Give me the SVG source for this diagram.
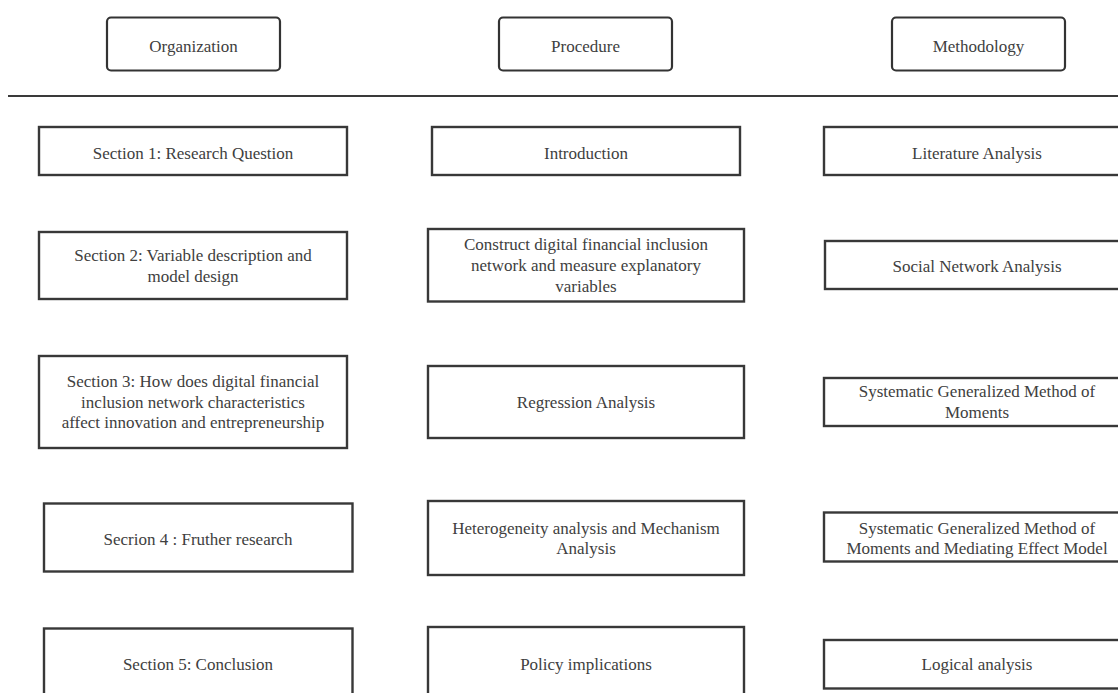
<svg xmlns="http://www.w3.org/2000/svg" width="1118" height="693" viewBox="0 0 1118 693" font-family="'Liberation Serif', 'DejaVu Serif', serif">
<style>
.hdr{fill:#fff;stroke:#333;stroke-width:2.2}
.box{fill:#fff;stroke:#383838;stroke-width:2.4}
.t{font-family:'Liberation Serif','DejaVu Serif',serif;font-size:17px;fill:#404040;text-anchor:middle}
</style>
<rect width="1118" height="693" fill="#fff"/>
<g id="connectors">
<line x1="8" y1="96" x2="1118" y2="96" stroke="#3a3a3a" stroke-width="2.2"/>
</g>
<g id="hdr-organization"><rect class="hdr" x="107" y="17.5" width="173" height="53" rx="4"/><text class="t" x="193.5" y="52">Organization</text></g>
<g id="hdr-procedure"><rect class="hdr" x="499" y="17.5" width="173" height="53" rx="4"/><text class="t" x="585.5" y="52">Procedure</text></g>
<g id="hdr-methodology"><rect class="hdr" x="892" y="17.5" width="173" height="53" rx="4"/><text class="t" x="978.5" y="52">Methodology</text></g>

<g id="org-1"><rect class="box" x="39" y="127" width="308" height="48"/><text class="t" x="193" y="159">Section 1: Research Question</text></g>
<g id="proc-1"><rect class="box" x="432" y="127" width="308" height="48"/><text class="t" x="586" y="159">Introduction</text></g>
<g id="meth-1"><rect class="box" x="824" y="127" width="306" height="48"/><text class="t" x="977" y="159">Literature Analysis</text></g>

<g id="org-2"><rect class="box" x="39" y="232" width="308" height="67"/><text class="t" x="193" y="261">Section 2: Variable description and</text><text class="t" x="193" y="282">model design</text></g>
<g id="proc-2"><rect class="box" x="428" y="229" width="316" height="72.5"/><text class="t" x="586" y="250">Construct digital financial inclusion</text><text class="t" x="586" y="271">network and measure explanatory</text><text class="t" x="586" y="292">variables</text></g>
<g id="meth-2"><rect class="box" x="825" y="241" width="305" height="48"/><text class="t" x="977" y="272">Social Network Analysis</text></g>

<g id="org-3"><rect class="box" x="39" y="356" width="308" height="92"/><text class="t" x="193" y="387">Section 3: How does digital financial</text><text class="t" x="193" y="407.5">inclusion network characteristics</text><text class="t" x="193" y="428">affect innovation and entrepreneurship</text></g>
<g id="proc-3"><rect class="box" x="428" y="366" width="316" height="72"/><text class="t" x="586" y="408">Regression Analysis</text></g>
<g id="meth-3"><rect class="box" x="824" y="378" width="306" height="48"/><text class="t" x="977" y="397">Systematic Generalized Method of</text><text class="t" x="977" y="417.5">Moments</text></g>

<g id="org-4"><rect class="box" x="44" y="503.5" width="308.5" height="68"/><text class="t" x="198" y="544.5">Secrion 4 : Fruther research</text></g>
<g id="proc-4"><rect class="box" x="428" y="501" width="316" height="74"/><text class="t" x="586" y="533.5">Heterogeneity analysis and Mechanism</text><text class="t" x="586" y="554">Analysis</text></g>
<g id="meth-4"><rect class="box" x="824" y="512.5" width="306" height="49"/><text class="t" x="977" y="533.5">Systematic Generalized Method of</text><text class="t" x="977" y="554">Moments and Mediating Effect Model</text></g>

<g id="org-5"><rect class="box" x="44" y="628.5" width="308.5" height="80"/><text class="t" x="198" y="670">Section 5: Conclusion</text></g>
<g id="proc-5"><rect class="box" x="428" y="627" width="316" height="80"/><text class="t" x="586" y="670">Policy implications</text></g>
<g id="meth-5"><rect class="box" x="824" y="640" width="306" height="48.5"/><text class="t" x="977" y="670">Logical analysis</text></g>
</svg>
